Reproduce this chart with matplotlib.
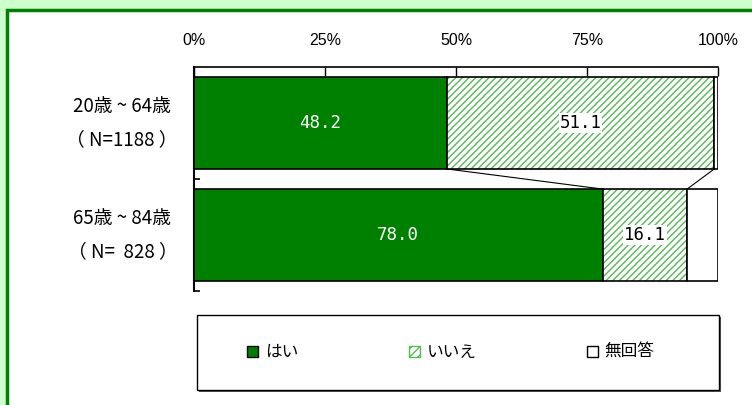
import numpy as np
import matplotlib
matplotlib.use('Agg')
import matplotlib.pyplot as plt
from matplotlib.patches import Rectangle, Patch

plt.rcParams['font.family'] = ['Noto Sans CJK JP', 'DejaVu Sans']
plt.rcParams['hatch.linewidth'] = 1.0

groups = ['20歳 ~ 64歳\n（ N=1188 ）', '65歳 ~ 84歳\n（ N=  828 ）']
series = ['はい', 'いいえ', '無回答']
yes = [48.2, 78.0]
no = [51.1, 16.1]
na = [0.7, 5.9]
pct_ticks = [0, 25, 50, 75, 100]

green = '#008000'
hatch_green = '#55bb55'

fig = plt.figure(figsize=(7.52, 4.05), dpi=100)
fig.patch.set_facecolor('#ccffcc')

# white panel with dark green border (runs off right/bottom edges)
W, H = 752, 405
panel = Rectangle((6.5 / W, -0.1), 1.2, 1.1 - 10.5 / H, transform=fig.transFigure,
                  facecolor='white', edgecolor=green, linewidth=2.5, zorder=-3)
fig.patches.append(panel)

ax = fig.add_axes([194 / W, 1 - 291 / H, 524 / W, 224 / H])
ax.set_facecolor('none')

y = np.arange(len(groups))
h = 0.82
yes = np.array(yes)
no = np.array(no)
na = np.array(na)

ax.barh(y, yes, height=h, color=green, edgecolor='black', linewidth=1.2, zorder=3)
# hatched segment: hatch in green, outline in black
ax.barh(y, no, left=yes, height=h, color='white', edgecolor=hatch_green,
        hatch='/////', linewidth=0, zorder=3)
ax.barh(y, no, left=yes, height=h, color='none', edgecolor='black', linewidth=1.2, zorder=3)
ax.barh(y, na, left=yes + no, height=h, color='white', edgecolor='black', linewidth=1.2, zorder=3)

# series lines between the bars
for edge in [yes, yes + no]:
    ax.plot([edge[0], edge[1]], [y[0] + h / 2, y[1] - h / 2], color='black', lw=0.8, zorder=2)

for i in range(len(groups)):
    ax.text(yes[i] / 2, y[i], f'{yes[i]:.1f}', ha='center', va='center', color='white',
            fontsize=12.5, family='DejaVu Sans Mono', zorder=5)
    ax.text(yes[i] + no[i] / 2, y[i], f'{no[i]:.1f}', ha='center', va='center', color='black',
            fontsize=12.5, family='DejaVu Sans Mono', zorder=5,
            bbox=dict(facecolor='white', edgecolor='none', pad=0.5))

ax.set_xlim(0, 100)
ax.set_ylim(1.5, -0.5)
ax.xaxis.tick_top()
ax.set_xticks(pct_ticks)
ax.set_xticklabels([f'{t}%' for t in pct_ticks], family='Liberation Sans', fontsize=11.5)
ax.tick_params(axis='x', direction='in', length=6.5, width=1, pad=14)

ax.set_yticks(y)
ax.set_yticklabels(groups, fontsize=13.5, linespacing=1.8, multialignment='center')
for lab in ax.get_yticklabels():
    lab.set_va('center')
ax.set_yticks([0.5, 1.5], minor=True)
ax.tick_params(axis='y', which='major', length=0, pad=12)
ax.tick_params(axis='y', which='minor', direction='in', length=4.5, width=1.2)

ax.spines['right'].set_visible(False)
ax.spines['bottom'].set_visible(False)
ax.spines['left'].set_linewidth(1.5)
ax.spines['top'].set_linewidth(1.2)

# legend box with shadow
lx, ly, lw_, lh = 197 / W, 1 - 390 / H, 522 / W, 75 / H
fig.patches.append(Rectangle((lx + 2 / W, ly - 2 / H), lw_, lh, transform=fig.transFigure,
                             facecolor='#555555', edgecolor='none', zorder=-2))
fig.patches.append(Rectangle((lx, ly), lw_, lh, transform=fig.transFigure,
                             facecolor='white', edgecolor='black', linewidth=1.0, zorder=-1))
handles = [
    Patch(facecolor=green, edgecolor='black', linewidth=1),
    Patch(facecolor='white', edgecolor=hatch_green, hatch='////', linewidth=1),
    Patch(facecolor='white', edgecolor='black', linewidth=1),
]
leg = fig.legend(handles, series, loc='center', bbox_to_anchor=(lx + lw_ / 2 - 7 / W, ly + lh / 2),
                 ncol=3, frameon=False, fontsize=12, handlelength=0.65, handleheight=0.65,
                 handletextpad=0.4, columnspacing=6.65)
leg.set_zorder(5)

fig.savefig('out.png', dpi=100, facecolor=fig.get_facecolor())
